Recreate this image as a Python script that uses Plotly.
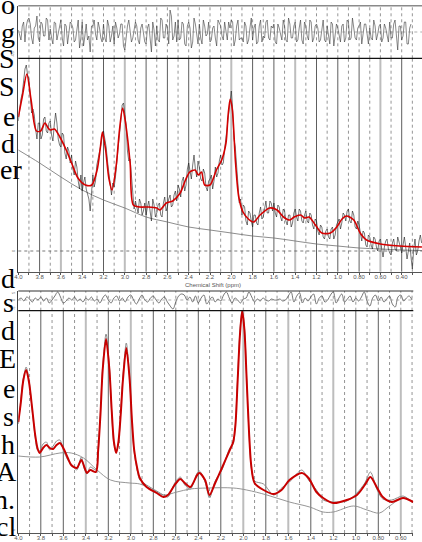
import numpy as np
import plotly.graph_objects as go

W, H = 422, 542

# ---------------- Upper spectrum (panel 1) ----------------
fit1_ppm = [4.00, 3.96, 3.92, 3.88, 3.83, 3.79, 3.75, 3.72, 3.70, 3.66,
            3.61, 3.55, 3.50, 3.44, 3.37, 3.31, 3.26, 3.23, 3.21, 3.18,
            3.15, 3.12, 3.08, 3.05, 3.02, 2.99, 2.95, 2.92, 2.86, 2.78,
            2.70, 2.67, 2.61, 2.55, 2.48, 2.43, 2.39, 2.34, 2.31, 2.28,
            2.25, 2.20, 2.14, 2.09, 2.05, 2.03, 2.01, 1.99, 1.96, 1.93,
            1.89, 1.84, 1.79, 1.73, 1.64, 1.57, 1.51, 1.45, 1.41, 1.35,
            1.31, 1.27, 1.21, 1.15, 1.07, 1.01, 0.96, 0.92, 0.85, 0.79,
            0.73, 0.60, 0.42, 0.21]
fit1_y = [134, 156, 177, 151, 120, 120, 128, 123, 121, 122,
          114, 101, 88, 73, 66, 66, 81, 103, 119, 101,
          73, 61, 86, 121, 143, 126, 88, 46, 44, 44,
          43, 41, 48, 50, 58, 71, 79, 81, 76, 79,
          66, 66, 81, 91, 108, 136, 152, 141, 88, 54,
          39, 32, 29, 36, 43, 41, 34, 31, 34, 36,
          33, 34, 26, 18, 18, 24, 32, 35, 31, 18,
          11, 7, 5, 4]

base1_ppm = [4.0, 3.8, 3.6, 3.4, 3.2, 3.0, 2.8, 2.6, 2.4, 2.2, 2.0,
             1.8, 1.6, 1.4, 1.2, 1.0, 0.8, 0.6, 0.4, 0.21]
base1_y = [101, 88, 74, 61, 51, 43, 34, 29, 24, 21, 18,
           15, 13, 10, 7, 5, 3, 2, 1, 0.5]

# raw spectrum at 4.000, 3.975, ... 0.225 ppm
data1_y = [130, 152, 170, 186,  172, 138, 136, 112,  128, 116, 134, 118,
           130, 110, 138, 112,  104, 116, 92, 100,   96, 76, 84, 62,
           60, 74, 58, 40,      76, 70, 92, 106,     120, 104, 78, 56,
           64, 94, 116, 146,    138, 100, 92, 52,    50, 38, 48, 40,
           36, 50, 30, 46,      38, 48, 34, 54,      44, 56, 46, 60,
           66, 54, 74, 66,      88, 72, 96, 74,      84, 70, 78, 60,
           72, 62, 84, 78,      96, 88, 114, 136,    160, 112, 86, 48,
           36, 44, 26, 38,      24, 36, 26, 44,      34, 50, 38, 48,
           48, 34, 44, 30,      40, 26, 36, 28,      42, 30, 40, 28,
           40, 28, 36, 22,      30, 16, 24, 12,      22, 12, 24, 16,
           30, 22, 38, 30,      42, 28, 36, 22,      26, 10, 18, 4,
           14, 2, 12, 0,        12, -6, 10, 2,       -4, 12, 0, 10,
           -2, 14, -8, 8,       -18, 12, 0, 16]
# raw spectrum at the in-between points 3.9875, 3.9625, ... 0.2125 ppm
data1_mid = [144, 158, 182, 176,  158, 142, 122, 128,  112, 132, 120, 128,
             116, 126, 128, 106,  118, 98, 104, 88,    82, 90, 70, 76,
             68, 62, 52, 60,      64, 86, 98, 114,     112, 90, 66, 68,
             74, 104, 128, 148,   126, 90, 74, 42,     44, 52, 36, 48,
             44, 40, 52, 34,      46, 36, 48, 40,      52, 44, 56, 50,
             62, 70, 60, 82,      80, 86, 82, 90,      72, 82, 64, 70,
             76, 70, 74, 90,      86, 102, 124, 148,   142, 104, 66, 52,
             46, 30, 40, 30,      36, 28, 38, 32,      42, 38, 50, 40,
             38, 46, 34, 42,      30, 36, 24, 38,      34, 42, 30, 36,
             30, 38, 26, 32,      20, 26, 14, 20,      14, 22, 12, 26,
             32, 28, 36, 40,      30, 40, 24, 30,      16, 20, 6, 16,
             6, 14, 4, 10,        2, 4, 12, -2,        8, 2, 14, 4,
             6, 4, 0, -6,         2, -4, 10, 8]

# residual strip (top), same two samplings
resid1_y = [2, -8, 10, 6,     14, -6, 4, 16,    -10, 8, -4, 12,
            3, -12, 9, -2,    12, -14, 6, 0,    8, -10, 2, -16,
            10, -4, -8, -20,  6, -2, 10, -6,    8, -10, 6, -4,
            -12, 4, -2, 8,    -18, 6, 2, -6,    10, -8, 4, -4,
            -12, 8, -20, 2,   6, -10, 12, -6,   4, 22, -8, 10,
            12, -6, 8, -14,   10, -16, 14, -4,  8, -12, 6, -2,
            -10, 4, -6, 12,   6, -8, 2, 10,     12, -14, 6, -8,
            -6, 10, -12, 4,   -8, 8, -10, 12,   -4, 10, -6, 6,
            8, -12, 4, -8,    6, -10, 8, -6,    10, -8, 12, -12,
            6, -8, 10, -6,    8, -10, 4, -8,    6, -12, 8, -2,
            4, -10, 8, -6,    10, -6, 4, -8,    6, -12, 8, -4,
            4, -8, 6, -2,     8, -6, 4, -10,    -6, 8, -4, 6,
            -8, 10, -12, 4,   14, -6, -24, 4]
resid1_mid = [-4, 6, -10, 12,  8, -12, 6, -6,   10, -4, 14, -8,  -6, 10, -8, 4,
              -6, 8, -12, 10,  4, -8, 12, -6,   -14, 8, -4, 6,   12, -8, 4, -10,
              -6, 12, -10, 6,  10, -6, 8, -14,  -4, 12, -10, 2,  6, -12, 8, -10,
              4, -8, 10, -14,  -8, 14, -6, 8,   -12, 16, -4, -10, -8, 10, -12, 6,
              4, -10, 8, -12,  -6, 12, -4, 10,  -8, 6, -14, 8,   -4, 10, -8, 4,
              10, -8, 12, -6,  -10, 6, -8, 14,  4, -12, 6, -10,  -6, 12, -8, 4,
              -10, 8, -4, 12,  -8, 14, -6, 6,   -10, 4, -8, 10,  -4, 12, -10, 6,
              4, -8, 12, -10,  -6, 10, -14, 8,  -4, 6, -10, 12,  -8, 14, -6, 4,
              10, -4, 8, -12,  -6, 12, -8, 6,   -10, 8, -4, 10,  -6, 12, -18, 6,
              -4, 10, -12, 8]

# ---------------- Lower spectrum (panel 2) ----------------
fit2_ppm = [4.00, 3.98, 3.955, 3.93, 3.905, 3.875, 3.85, 3.83, 3.81, 3.78,
            3.75, 3.72, 3.69, 3.66, 3.63, 3.60, 3.56, 3.53, 3.48, 3.44,
            3.41, 3.39, 3.36, 3.31, 3.29, 3.27, 3.25, 3.22, 3.19, 3.17,
            3.15, 3.13, 3.11, 3.09, 3.07, 3.04, 3.01, 2.99, 2.97, 2.94,
            2.92, 2.86, 2.77, 2.71, 2.67, 2.61, 2.56, 2.52, 2.47, 2.41,
            2.39, 2.34, 2.30, 2.25, 2.19, 2.12, 2.09, 2.07, 2.05, 2.03,
            2.01, 1.99, 1.97, 1.95, 1.93, 1.90, 1.82, 1.73, 1.66, 1.59,
            1.48, 1.42, 1.35, 1.29, 1.20, 1.08, 0.99, 0.92, 0.87, 0.81,
            0.76, 0.68, 0.58, 0.49]
fit2_y = [108, 125, 150, 160, 148, 120, 95, 82, 77, 82,
          85, 82, 81, 85, 87, 82, 72, 65, 62, 70,
          62, 57, 60, 58, 80, 115, 160, 191, 160, 120,
          88, 77, 88, 115, 150, 182, 150, 110, 80, 60,
          52, 43, 37, 33, 35, 45, 51, 47, 43, 55,
          57, 50, 35, 47, 62, 80, 88, 105, 150, 195,
          219, 200, 150, 100, 65, 47, 40, 36, 40, 50,
          57, 52, 38, 32, 27, 30, 35, 45, 53, 42,
          33, 28, 32, 28]
data2_y = [106, 128, 152, 163, 150, 118, 93, 80, 79, 86,
           88, 80, 84, 89, 90, 80, 70, 66, 60, 73,
           60, 56, 63, 60, 78, 118, 164, 196, 163, 118,
           86, 79, 86, 118, 154, 187, 152, 108, 78, 58,
           50, 45, 39, 35, 33, 47, 53, 45, 41, 57,
           59, 48, 32, 49, 60, 82, 86, 107, 154, 199,
           221, 203, 152, 98, 63, 49, 46, 35, 42, 48,
           60, 50, 40, 30, 28, 29, 37, 47, 58, 40,
           31, 30, 34, 27]

base2_ppm = [4.0, 3.81, 3.63, 3.53, 3.42, 3.30, 3.18, 3.01, 2.92, 2.80,
             2.71, 2.59, 2.47, 2.32, 2.09, 1.97, 1.79, 1.59, 1.41, 1.29,
             1.20, 1.02, 0.90, 0.79, 0.70, 0.58, 0.49]
base2_y = [74, 73, 77, 77, 72, 60, 50, 47, 46, 40,
           35, 38, 41, 42, 42, 40, 35, 28, 23, 18,
           18, 24, 20, 17, 24, 32, 28]

# residual strip of panel 2, 4.000 -> 0.500 ppm every 0.025 ppm
resid2_y = [0, 2, -1, 3, 1, -2, 2, 0, 3, -1,
            2, -3, 0, 4, 8, 3, -3, -1, 2, 0,
            3, -1, 1, -2, 2, 0, 3, -1, 1, -3,
            2, 5, 0, -3, 2, 4, -1, 2, -2, 3,
            5, 0, -4, 1, 5, 0, -2, 2, 4, 0,
            -3, 1, 3, -2, -6, -9, -2, 4, 6, 5,
            0, 3, -2, 4, -3, 2, 5, -4, 0, 3,
            -2, 1, -1, 5, 8, 2, -3, 2, 0, -3,
            1, 2, 8, 3, -2, 1, -1, 2, 0, -1,
            1, 0, 0, 1, -1, 0, 4, 8, -2, 4,
            7, -3, 2, -1, 3, 6, -4, 2, 4, -2,
            0, 5, 8, -3, 2, 6, -2, 1, 4, -2,
            2, -1, 3, 8, -1, -6, 2, 5, -1, 3,
            -2, 1, 4, -4, -7, 3, 5, -1, 2, 4,
            0]

tick_ppm1 = [4.0, 3.8, 3.6, 3.4, 3.2, 3.0, 2.8, 2.6, 2.4, 2.2, 2.0,
             1.8, 1.6, 1.4, 1.2, 1.0, 0.8, 0.6, 0.4]
tick_text1 = ["4.0", "3.8", "3.6", "3.4", "3.2", "3.0", "2.8", "2.6", "2.4",
              "2.2", "2.0", "1.8", "1.6", "1.4", "1.2", "1.0", "0.80", "0.60", "0.40"]
tick_ppm2 = tick_ppm1[:-1]
tick_text2 = tick_text1[:-1]
axis_title = "Chemical Shift (ppm)"

# cropped words of the neighbouring paper text (left margin)
side_text_top = ["o", "g", "S", "S", "e", "d", "er"]
side_text_bottom = ["d", "s", "d", "E", "e", "s", "h", "A", "n.", "cl"]

# ---------------- layout geometry (pixels) ----------------
def px_x(p):
    return p / W

def px_y(p):
    return 1 - p / H

def interleave(a, b):
    return [v for pair in zip(a, b) for v in pair]

LEFT = 18.3
X1_RANGE = [4.0, 4.0 - (W - LEFT) / 106.5]
X2_RANGE = [4.0, 4.0 - (413.3 - LEFT) / 112.5]

dom = {
    "y":  [px_y(58.3), px_y(5.7)],
    "y2": [px_y(271.7), px_y(58.3)],
    "y3": [px_y(310.7), px_y(291.0)],
    "y4": [px_y(533.0), px_y(310.7)],
}

raw1 = interleave(data1_y, data1_mid)
res1 = interleave(resid1_y, resid1_mid)
x_raw1 = 4.0 - 0.0125 * np.arange(len(raw1))
x_res1 = 4.0 - 0.0125 * np.arange(len(res1))

fig = go.Figure()

RED = "#d40000"
# panel 1
fig.add_trace(go.Scatter(x=x_res1, y=res1, xaxis="x", yaxis="y", mode="lines",
                         line=dict(color="#3a3a3a", width=0.6)))
fig.add_trace(go.Scatter(x=base1_ppm, y=base1_y, xaxis="x", yaxis="y2", mode="lines",
                         line=dict(color="#707070", width=0.8, shape="spline")))
fig.add_trace(go.Scatter(x=x_raw1, y=raw1, xaxis="x", yaxis="y2", mode="lines",
                         line=dict(color="#1e1e1e", width=0.6)))
fig.add_trace(go.Scatter(x=fit1_ppm, y=fit1_y, xaxis="x", yaxis="y2", mode="lines",
                         line=dict(color=RED, width=1.6, shape="spline", smoothing=0.8)))
# panel 2
fig.add_trace(go.Scatter(x=np.linspace(4.0, 0.5, len(resid2_y)), y=resid2_y,
                         xaxis="x2", yaxis="y3", mode="lines",
                         line=dict(color="#555555", width=0.8, shape="spline")))
fig.add_trace(go.Scatter(x=base2_ppm, y=base2_y, xaxis="x2", yaxis="y4", mode="lines",
                         line=dict(color="#8a8a8a", width=0.9, shape="spline")))
fig.add_trace(go.Scatter(x=fit2_ppm, y=data2_y, xaxis="x2", yaxis="y4", mode="lines",
                         line=dict(color="#8a8a8a", width=1.0, shape="spline", smoothing=0.8)))
fig.add_trace(go.Scatter(x=fit2_ppm, y=fit2_y, xaxis="x2", yaxis="y4", mode="lines",
                         line=dict(color="#c80000", width=2.0, shape="spline", smoothing=0.8)))

shapes = []

def vgrid(xref, yref, end, residual, light):
    n = int(round((4.0 - end) * 10))
    for k in range(1, n + 1):
        v = round(4.0 - k * 0.1, 1)
        if residual or k % 2 == 1:
            ln = dict(color="#7a7a7a", width=0.8, dash="dot")
        elif v in light:
            ln = dict(color="#bdbdbd", width=2)
        else:
            ln = dict(color="#5e5e5e", width=1)
        shapes.append(dict(type="line", xref=xref, yref=yref + " domain",
                           x0=v, x1=v, y0=0, y1=1, line=ln, layer="below"))

vgrid("x", "y", 0.3, True, set())
vgrid("x", "y2", 0.3, False, {3.6, 3.0, 2.0, 1.4, 0.6})
vgrid("x2", "y3", 0.5, True, set())
vgrid("x2", "y4", 0.5, False, {3.4, 3.0, 2.0, 1.6, 1.2, 0.6})

def hline(xref, yref, yv, color, width, dash="solid", domain=True):
    shapes.append(dict(type="line", xref=xref + " domain",
                       yref=(yref + " domain") if domain else yref,
                       x0=0, x1=1, y0=yv, y1=yv,
                       line=dict(color=color, width=width, dash=dash)))

hline("x", "y", 1, "#8a8a8a", 1.6)
hline("x", "y", 0, "#111111", 1.2)
hline("x", "y", 0, "#777777", 0.6, "dot", domain=False)
hline("x", "y2", 0, "#555555", 0.8, "dot", domain=False)
hline("x2", "y3", 1, "#333333", 1.2)
hline("x2", "y3", 0, "#111111", 1.2)
hline("x2", "y3", 0, "#777777", 0.6, "dot", domain=False)

annotations = []
tickfont = dict(family="Liberation Sans", size=6, color="#555555")
annotations.append(dict(text=axis_title, x=px_x(213), y=px_y(285), xref="paper", yref="paper",
                        showarrow=False, font=tickfont, xanchor="center", yanchor="middle"))
annotations.append(dict(text=axis_title, x=px_x(221), y=px_y(544.5), xref="paper", yref="paper",
                        showarrow=False, font=tickfont, xanchor="center", yanchor="middle"))

small = dict(family="Liberation Sans", size=4, color="#666666")
for txt, yy in [("05", 9), ("0", 32), ("-05", 54), ("0", 251), ("5", 293), ("0", 300), ("-5", 308), ("0", 530)]:
    annotations.append(dict(text=txt, x=px_x(13), y=px_y(yy), xref="paper", yref="paper",
                            showarrow=False, font=small, textangle=-90,
                            xanchor="center", yanchor="middle"))

serif = dict(family="Liberation Serif", size=28, color="#000000")
top_mid = [5, 33, 59, 87, 116, 144, 170]
top_right = [17, 17, 17, 17, 17, 17, 24]
bot_mid = [278, 302, 330, 358, 388, 416, 444, 471, 499, 526]
bot_right = [17, 16, 17, 18, 17, 16, 17, 19, 17, 18]
for txts, mids, rights in [(side_text_top, top_mid, top_right),
                           (side_text_bottom, bot_mid, bot_right)]:
    for t, m, r in zip(txts, mids, rights):
        annotations.append(dict(text=t, x=px_x(r), y=px_y(m), xref="paper",
                                yref="paper", showarrow=False, font=serif,
                                xanchor="right", yanchor="middle"))

def xax(domain, rng, anchor, tv, tt, end):
    vals = [round(4.0 - k * 0.1, 1) for k in range(int(round((4.0 - end) * 10)) + 1)]
    lab = dict(zip(tv, tt))
    return dict(domain=domain, range=rng, anchor=anchor, showgrid=False, zeroline=False,
                showline=True, linecolor="#555555", linewidth=1, automargin=False,
                tickmode="array", tickvals=vals, ticktext=[lab.get(v, "") for v in vals],
                ticks="outside", ticklen=2, tickcolor="#555555", tickwidth=1,
                ticklabelstandoff=-3, tickfont=tickfont)

def yax(domain, rng, anchor):
    return dict(domain=domain, range=rng, anchor=anchor, showgrid=False, zeroline=False,
                showticklabels=False, showline=True, linecolor="#444444", linewidth=1,
                ticks="", automargin=False)

fig.update_layout(
    width=W, height=H, margin=dict(l=0, r=0, t=0, b=0, autoexpand=False),
    paper_bgcolor="white", plot_bgcolor="white", showlegend=False,
    xaxis=xax([px_x(LEFT), 1.0], X1_RANGE, "y2", tick_ppm1, tick_text1, 0.3),
    xaxis2=xax([px_x(LEFT), px_x(413.3)], X2_RANGE, "y4", tick_ppm2, tick_text2, 0.5),
    yaxis=yax(dom["y"], [-26.3, 26.3], "x"),
    yaxis2=yax(dom["y2"], [-20.7, 192.7], "x"),
    yaxis3=yax(dom["y3"], [-10.7, 9.0], "x2"),
    yaxis4=yax(dom["y4"], [-3, 219.3], "x2"),
    shapes=shapes, annotations=annotations,
)

fig.write_html(
    "out.html",
    config={"displayModeBar": False},
    post_script="document.body.style.margin='0px';document.body.style.padding='0px';"
                "document.body.style.overflow='hidden';",
)
